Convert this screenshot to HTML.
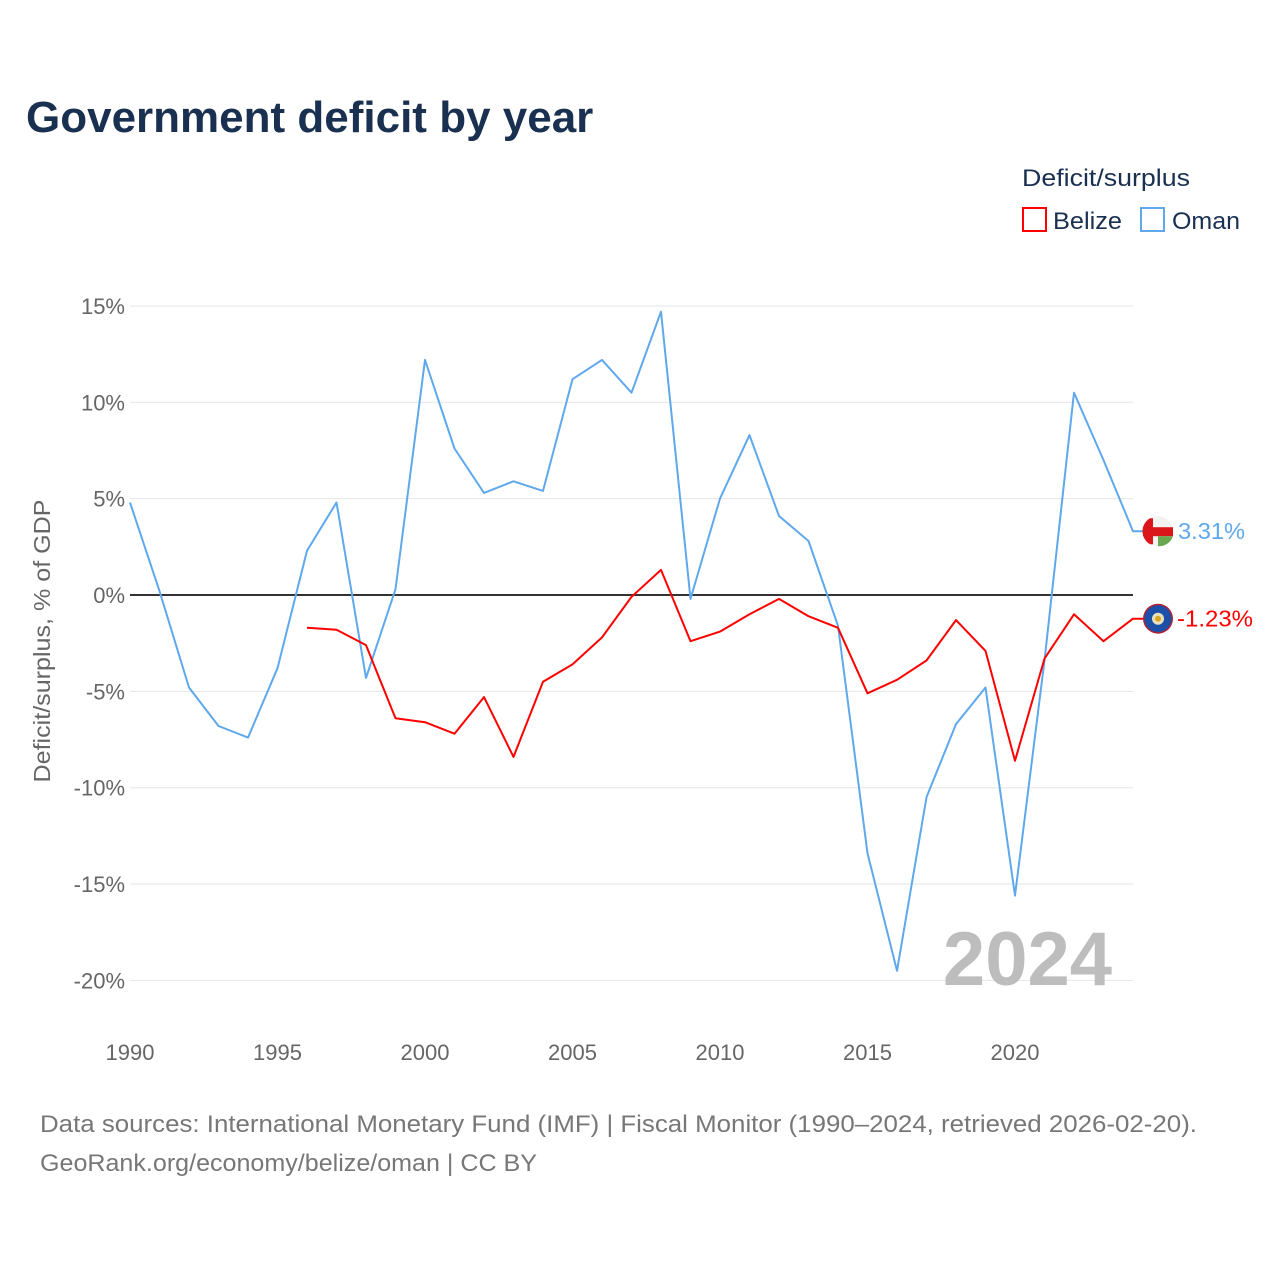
<!DOCTYPE html>
<html><head><meta charset="utf-8"><style>
html,body{margin:0;padding:0;background:#fff;width:1280px;height:1280px;overflow:hidden;font-family:"Liberation Sans","DejaVu Sans",sans-serif}
</style></head><body>
<svg id="chart" width="1280" height="1280" xmlns="http://www.w3.org/2000/svg" font-family="Liberation Sans, DejaVu Sans, sans-serif">
<text x="26" y="132" font-size="44" font-weight="bold" fill="#1a3050">Government deficit by year</text>
<text x="1022" y="186" font-size="24" fill="#1a3050" textLength="168" lengthAdjust="spacingAndGlyphs">Deficit/surplus</text>
<g>
<rect x="1023" y="208" width="23" height="23" fill="none" stroke="#ff0000" stroke-width="2"/>
<text x="1053" y="229" font-size="24" fill="#1a3050" textLength="69" lengthAdjust="spacingAndGlyphs">Belize</text></g>
<g>
<rect x="1141" y="208" width="23" height="23" fill="none" stroke="#5fa8ec" stroke-width="2"/>
<text x="1172" y="229" font-size="24" fill="#1a3050" textLength="68" lengthAdjust="spacingAndGlyphs">Oman</text></g>
<text transform="translate(50,641) rotate(-90)" text-anchor="middle" font-size="23" fill="#666" textLength="283" lengthAdjust="spacingAndGlyphs">Deficit/surplus, % of GDP</text>
<g id="grid"></g><g id="series"></g>
<text x="1112" y="985" text-anchor="end" font-size="76" font-weight="bold" fill="#bdbdbd">2024</text>
<text x="40" y="1132" font-size="24" fill="#777" textLength="1157" lengthAdjust="spacingAndGlyphs">Data sources: International Monetary Fund (IMF) | Fiscal Monitor (1990–2024, retrieved 2026-02-20).</text>
<text x="40" y="1171" font-size="24" fill="#777" textLength="497" lengthAdjust="spacingAndGlyphs">GeoRank.org/economy/belize/oman | CC BY</text>
</svg>
<script>
const omanYears=[1990,1991,1992,1993,1994,1995,1996,1997,1998,1999,2000,2001,2002,2003,2004,2005,2006,2007,2008,2009,2010,2011,2012,2013,2014,2015,2016,2017,2018,2019,2020,2021,2022,2023,2024];
const omanValues=[4.8,0.2,-4.8,-6.8,-7.4,-3.8,2.3,4.8,-4.3,0.3,12.2,7.6,5.3,5.9,5.4,11.2,12.2,10.5,14.7,-0.2,5.0,8.3,4.1,2.8,-1.6,-13.4,-19.5,-10.5,-6.7,-4.8,-15.6,-3.4,10.5,7.0,3.31];
const belizeYears=[1996,1997,1998,1999,2000,2001,2002,2003,2004,2005,2006,2007,2008,2009,2010,2011,2012,2013,2014,2015,2016,2017,2018,2019,2020,2021,2022,2023,2024];
const belizeValues=[-1.7,-1.8,-2.6,-6.4,-6.6,-7.2,-5.3,-8.4,-4.5,-3.6,-2.2,-0.1,1.3,-2.4,-1.9,-1.0,-0.2,-1.1,-1.7,-5.1,-4.4,-3.4,-1.3,-2.9,-8.6,-3.3,-1.0,-2.4,-1.23];
const yTicks=[15,10,5,0,-5,-10,-15,-20];
const xTicks=[1990,1995,2000,2005,2010,2015,2020];
const NS="http://www.w3.org/2000/svg";
const X=y=>130+(y-1990)*(1133-130)/34;
const Y=v=>595-v*19.27;
const grid=document.getElementById('grid'),ser=document.getElementById('series');
function mk(tag,attrs,parent){const e=document.createElementNS(NS,tag);for(const k in attrs)e.setAttribute(k,attrs[k]);parent.appendChild(e);return e;}
yTicks.forEach(t=>{
 const l=mk('line',{x1:130,x2:1133,y1:Y(t),y2:Y(t),stroke:t===0?'#333':'#e6e6e6','stroke-width':t===0?2:1},grid);
 
 
 const tx=mk('text',{x:125,y:Y(t)+8,'text-anchor':'end','font-size':22,fill:'#666'},grid);
 tx.textContent=t+'%';
 
 
});
xTicks.forEach(t=>{
 const tx=mk('text',{x:X(t),y:1060,'text-anchor':'middle','font-size':22,fill:'#666'},grid);
 tx.textContent=t;
 
 
});
function line(years,vals,color,name){
 const d=years.map((y,i)=>(i?'L':'M')+X(y).toFixed(1)+','+Y(vals[i]).toFixed(1)).join(' ')+' L'+(X(years[years.length-1])+10)+','+Y(vals[vals.length-1]).toFixed(1);
 const p=mk('path',{d:d,fill:'none',stroke:color,'stroke-width':2,'stroke-linejoin':'round'},ser);
 
 
}
line(omanYears,omanValues,'#5fa8ec','oman');
line(belizeYears,belizeValues,'#ff0000','belize');
const oy=Y(omanValues[omanValues.length-1]), by=Y(belizeValues[belizeValues.length-1]);
const fo=mk('g',{},ser);


mk('circle',{cx:1158,cy:oy,r:15,fill:'#f2f2f2'},fo);
mk('rect',{x:1143,y:oy-4,width:30,height:9,fill:'#db161b'},fo);
mk('path',{d:`M1158,${oy+5} L1173,${oy+5} A15,15 0 0 1 1158,${oy+15} Z`,fill:'#6aa84f'},fo);
mk('path',{d:`M1150,${oy-13} A15,15 0 0 0 1150,${oy+13} L1153,${oy+13} L1153,${oy-13} Z`,fill:'#db161b'},fo);
const fb=mk('g',{},ser);


mk('circle',{cx:1158,cy:by,r:15,fill:'#b22234'},fb);
mk('circle',{cx:1158,cy:by,r:13.5,fill:'#1b4fa8'},fb);
mk('circle',{cx:1158,cy:by,r:6,fill:'#e8e2c0'},fb);
mk('circle',{cx:1158,cy:by,r:3,fill:'#d9a520'},fb);
const lo=mk('text',{x:1178,y:oy+8,'font-size':23,fill:'#5fa8ec',textLength:67,lengthAdjust:'spacingAndGlyphs'},ser);
lo.textContent=omanValues[omanValues.length-1].toFixed(2)+'%';


const lb=mk('text',{x:1177,y:by+8,'font-size':23,fill:'#ff0000',textLength:76,lengthAdjust:'spacingAndGlyphs'},ser);
lb.textContent=belizeValues[belizeValues.length-1].toFixed(2)+'%';


</script>
</body></html>
